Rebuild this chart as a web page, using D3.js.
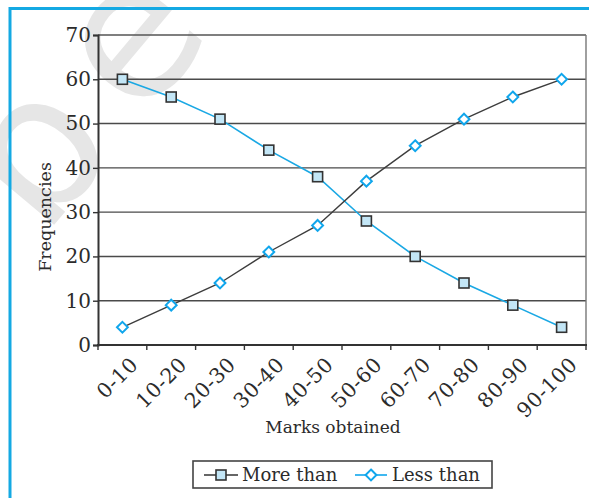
<!DOCTYPE html>
<html>
<head>
<meta charset="utf-8">
<script src="https://cdn.jsdelivr.net/npm/d3@7"></script>
<style>
  html, body { margin: 0; padding: 0; background: #fff; }
  svg { display: block; }
  text { font-family: "DejaVu Serif", serif; fill: #2b2b2b; }
</style>
</head>
<body>
<svg id="chart" width="589" height="498"></svg>
<script>
// Class intervals of marks
const categories = ["0-10", "10-20", "20-30", "30-40", "40-50", "50-60", "60-70", "70-80", "80-90", "90-100"];
// Cumulative frequencies
const moreThan = [60, 56, 51, 44, 38, 28, 20, 14, 9, 4];
const lessThan = [4, 9, 14, 21, 27, 37, 45, 51, 56, 60];
const yTicks = [0, 10, 20, 30, 40, 50, 60, 70];
const seriesNames = ["More than", "Less than"];

const svg = d3.select("#chart");
const W = 589, H = 498;
const plot = { left: 98, right: 586, top: 35, bottom: 345 };

// faint background mark
svg.append("text")
  .attr("transform", "translate(43,238) rotate(-50)")
  .style("font-family", "'DejaVu Sans', sans-serif")
  .style("font-size", "190px")
  .style("letter-spacing", "30px")
  .style("fill", "#e6e6e6")
  .text("be");

// outer frame (left and top edges)
svg.append("path")
  .attr("d", `M10,${H} L10,8.5 L${W},8.5`)
  .attr("fill", "none")
  .attr("stroke", "#14a9e3")
  .attr("stroke-width", 3);

const x = d3.scaleBand().domain(categories).range([plot.left, plot.right]).paddingInner(0).paddingOuter(0);
const y = d3.scaleLinear().domain([0, 70]).range([plot.bottom, plot.top]);

// horizontal grid
svg.append("g").selectAll("line").data(yTicks.filter(v => v > 0))
  .join("line")
  .attr("x1", plot.left).attr("x2", plot.right)
  .attr("y1", d => y(d)).attr("y2", d => y(d))
  .attr("stroke", d => d === 70 ? "#555" : "#4a4a4a")
  .attr("stroke-width", 1.4);

// right border
svg.append("line")
  .attr("x1", plot.right).attr("x2", plot.right)
  .attr("y1", plot.top).attr("y2", plot.bottom)
  .attr("stroke", "#777").attr("stroke-width", 1.4);

// y axis
const yAxis = svg.append("g")
  .attr("transform", `translate(${plot.left},0)`)
  .call(d3.axisLeft(y).tickValues(yTicks).tickSize(5).tickPadding(2));
yAxis.select(".domain").attr("stroke", "#333").attr("stroke-width", 2);
yAxis.selectAll(".tick line").attr("stroke", "#333").attr("stroke-width", 1.4);
yAxis.selectAll(".tick text")
  .style("font-family", "'DejaVu Serif', serif")
  .style("font-size", "20px")
  .attr("fill", "#2b2b2b");

// x axis with ticks at category boundaries
const xAxisG = svg.append("g").attr("transform", `translate(0,${plot.bottom})`);
xAxisG.append("line")
  .attr("x1", plot.left - 1).attr("x2", plot.right + 1)
  .attr("stroke", "#333").attr("stroke-width", 2);
const boundaries = categories.map(c => x(c)).concat([plot.right]);
xAxisG.selectAll("line.tk").data(boundaries).join("line")
  .attr("class", "tk")
  .attr("x1", d => d).attr("x2", d => d)
  .attr("y1", 0).attr("y2", 5)
  .attr("stroke", "#333").attr("stroke-width", 1.4);
xAxisG.selectAll("text").data(categories).join("text")
  .attr("transform", d => `translate(${x(d) + x.bandwidth() / 2 + 6},10) rotate(-45)`)
  .attr("text-anchor", "end")
  .attr("dy", "0.75em")
  .style("font-size", "20.5px")
  .style("letter-spacing", "0.5px")
  .text(d => d);

// axis titles
svg.append("text")
  .attr("transform", `translate(51,217) rotate(-90)`)
  .attr("text-anchor", "middle")
  .style("font-size", "17.5px")
  .text("Frequencies");
svg.append("text")
  .attr("x", 333).attr("y", 433)
  .attr("text-anchor", "middle")
  .style("font-size", "17px")
  .text("Marks obtained");

const cx = d => x(d) + x.bandwidth() / 2;
const line = d3.line().x((d, i) => cx(categories[i])).y(d => y(d));

// More than: blue line, square markers
svg.append("path").datum(moreThan)
  .attr("d", line).attr("fill", "none")
  .attr("stroke", "#1aa8e4").attr("stroke-width", 1.6);
// Less than: dark line, diamond markers
svg.append("path").datum(lessThan)
  .attr("d", line).attr("fill", "none")
  .attr("stroke", "#3d3d3d").attr("stroke-width", 1.4);

const sq = 10;
svg.append("g").selectAll("rect").data(moreThan).join("rect")
  .attr("x", (d, i) => cx(categories[i]) - sq / 2)
  .attr("y", d => y(d) - sq / 2)
  .attr("width", sq).attr("height", sq)
  .attr("fill", "#c3e6f6").attr("stroke", "#333").attr("stroke-width", 1.6);

const diamond = d3.symbol().type(d3.symbolDiamond2).size(75);
svg.append("g").selectAll("path").data(lessThan).join("path")
  .attr("d", diamond)
  .attr("transform", (d, i) => `translate(${cx(categories[i])},${y(d)})`)
  .attr("fill", "#fff").attr("stroke", "#10a6ec").attr("stroke-width", 2);

// legend
const lg = svg.append("g");
lg.append("rect")
  .attr("x", 193).attr("y", 461).attr("width", 299).attr("height", 27)
  .attr("fill", "#fff").attr("stroke", "#444").attr("stroke-width", 1.6);
const items = [
  { name: seriesNames[0], x0: 204, x1: 238, tx: 242 },
  { name: seriesNames[1], x0: 355, x1: 387, tx: 392 }
];
lg.append("line").attr("x1", items[0].x0).attr("x2", items[0].x1).attr("y1", 475).attr("y2", 475)
  .attr("stroke", "#333").attr("stroke-width", 1.4);
lg.append("rect").attr("x", 221 - sq / 2).attr("y", 475 - sq / 2).attr("width", sq).attr("height", sq)
  .attr("fill", "#c3e6f6").attr("stroke", "#333").attr("stroke-width", 1.6);
lg.append("line").attr("x1", items[1].x0).attr("x2", items[1].x1).attr("y1", 475).attr("y2", 475)
  .attr("stroke", "#10a6ec").attr("stroke-width", 1.6);
lg.append("path").attr("d", diamond).attr("transform", "translate(371,475)")
  .attr("fill", "#fff").attr("stroke", "#10a6ec").attr("stroke-width", 2);
lg.selectAll("text.lt").data(items).join("text")
  .attr("class", "lt")
  .attr("x", d => d.tx).attr("y", 481)
  .style("font-size", "18px")
  .text(d => d.name);
</script>
</body>
</html>
